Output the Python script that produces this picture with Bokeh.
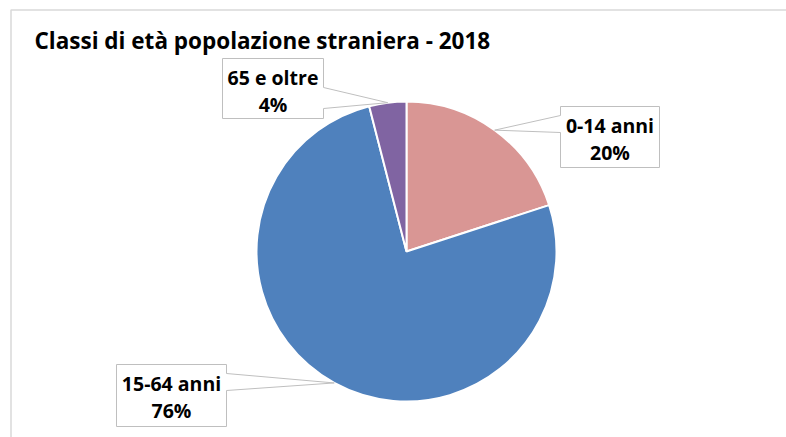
import math
from bokeh.plotting import figure
from bokeh.models import Range1d, ColumnDataSource
from bokeh.core.properties import value
from bokeh.embed import file_html
from bokeh.resources import INLINE

# ---- data ----
title = "Classi di età popolazione straniera - 2018"
categories = ["0-14 anni", "15-64 anni", "65 e oltre"]
percentages = [20, 76, 4]
colors = ["#D99694", "#4F81BD", "#8064A2"]

# ---- layout (page pixel coordinates, y downward) ----
W, H = 786, 437
FONT = value("Open Sans")
cx, cy, r = 406, 251, 150
# callout boxes: left, right, top, bottom, pointer side, pointer y1, y2
boxes = {
    "0-14 anni": (560, 659, 106, 167, "left", 115, 132),
    "15-64 anni": (116, 226, 364, 426, "right", 373, 390),
    "65 e oltre": (222, 323, 58, 118, "right", 87, 108),
}


def Y(y):
    return -y


p = figure(width=W, height=H, x_range=Range1d(0, W), y_range=Range1d(-H, 0),
           output_backend="svg", toolbar_location=None, min_border=0,
           x_axis_location=None, y_axis_location=None)
p.grid.visible = False
p.outline_line_color = None
p.background_fill_color = "white"
p.border_fill_color = "white"

# chart frame (cropped at right/bottom)
p.line(x=[10.5, 10.5, 900], y=[Y(500), Y(9.5), Y(9.5)], line_color="#D9D9D9", line_width=1.5)

# wedges
total = sum(percentages)
starts, ends, mids = [], [], []
cum = 0
for v in percentages:
    a0 = math.pi / 2 - 2 * math.pi * cum / total
    a1 = math.pi / 2 - 2 * math.pi * (cum + v) / total
    starts.append(a0)
    ends.append(a1)
    mids.append((a0 + a1) / 2)
    cum += v

src = ColumnDataSource(dict(start=starts, end=ends, color=colors))
p.wedge(x=cx, y=Y(cy), radius=r, start_angle="start", end_angle="end", direction="clock",
        fill_color="color", line_color="white", line_width=2, source=src)

# callouts
xs, ys = [], []
tx, ty1, ty2, t1, t2 = [], [], [], [], []
for cat, pct, m in zip(categories, percentages, mids):
    L, R, T, B, side, y1, y2 = boxes[cat]
    tipx = cx + r * math.cos(m)
    tipy = cy - r * math.sin(m)
    if side == "left":
        px = [L, R, R, L, L, tipx, L]
        py = [T, T, B, B, y2, tipy, y1]
    else:
        px = [L, R, R, tipx, R, R, L]
        py = [T, T, y1, tipy, y2, B, B]
    xs.append(px)
    ys.append([Y(v) for v in py])
    tx.append((L + R) / 2)
    ty1.append(Y(T + 19))
    ty2.append(Y(T + 46))
    t1.append(cat)
    t2.append(f"{pct}%")

p.patches(xs=xs, ys=ys, fill_color="white", line_color="#BFBFBF", line_width=1)
p.text(x=tx, y=ty1, text=t1, text_align="center", text_baseline="middle", text_font=FONT,
       text_font_style="bold", text_font_size="19.5px", text_color="black")
p.text(x=tx, y=ty2, text=t2, text_align="center", text_baseline="middle", text_font=FONT,
       text_font_style="bold", text_font_size="19.5px", text_color="black")

# title
p.text(x=[34], y=[Y(40)], text=[title], text_align="left", text_baseline="middle", text_font=FONT,
       text_font_style="bold", text_font_size="22.5px", text_color="black")

open("out.html", "w").write(file_html(p, INLINE))
